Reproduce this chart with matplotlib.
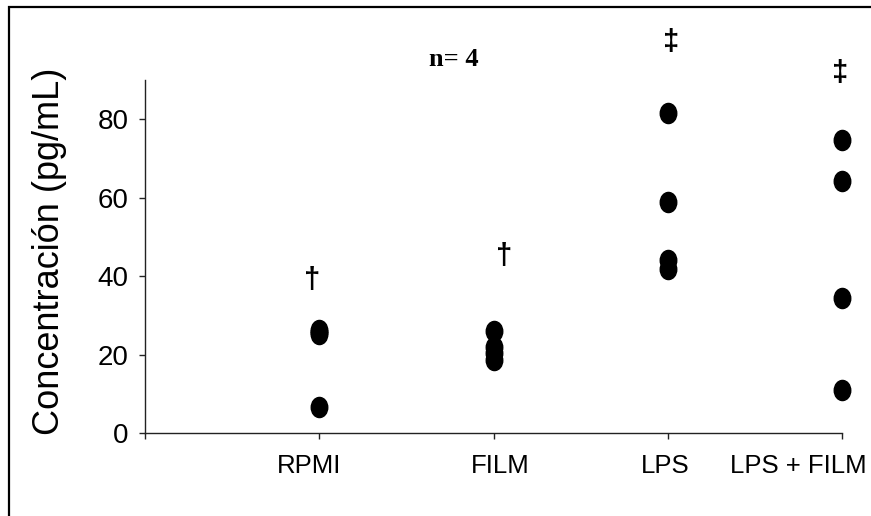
import matplotlib
matplotlib.use("Agg")
import matplotlib.pyplot as plt
from matplotlib.path import Path
from matplotlib.patches import Rectangle
from matplotlib.transforms import Affine2D

plt.rcParams['font.family'] = ['Liberation Sans', 'DejaVu Sans']

# data (pg/mL), n = 4 per group
groups = ['RPMI', 'FILM', 'LPS', 'LPS + FILM']
rpmi = [26.3, 25.8, 25.2, 6.5]
film = [26.0, 22.0, 20.5, 18.5]
lps = [81.5, 59.0, 44.0, 41.8]
lps_film = [74.6, 64.2, 34.3, 11.0]
values = [rpmi, film, lps, lps_film]
sig_marks = ['\u2020', '\u2020', '\u2021', '\u2021']
yticks = [0, 20, 40, 60, 80]

# slightly tall ellipse marker like the original
ellipse = Path.unit_circle().transformed(Affine2D().scale(0.82, 1.0))

fig = plt.figure(figsize=(8.71, 5.16), dpi=100)
ax = fig.add_axes([0.1665, 0.1609, 0.8002, 0.6841])

for i, vals in enumerate(values):
    ax.plot([i + 1] * len(vals), vals, linestyle='none', marker=ellipse,
            markersize=14.5, color='black', clip_on=False)

ax.set_xlim(0, 4)
ax.set_ylim(0, 90)
ax.set_yticks(yticks)
ax.set_yticklabels([str(v) for v in yticks], fontsize=20)
ax.set_xticks(range(0, len(groups) + 1))
ax.set_xticklabels([])

# category labels, placed by hand as in the original (last one pulled inside)
label_shift = [-0.059, 0.037, -0.016, -0.253]
for i, (g, dx) in enumerate(zip(groups, label_shift)):
    ax.text(i + 1 + dx, -0.113, g, transform=ax.get_xaxis_transform(),
            ha='center', va='baseline', fontsize=18.5)

for s in ['top', 'right']:
    ax.spines[s].set_visible(False)
for s in ['left', 'bottom']:
    ax.spines[s].set_color('#222222')
    ax.spines[s].set_linewidth(1.0)
ax.tick_params(axis='y', direction='out', length=4, width=1, pad=8, colors='#222222', labelcolor='black')
ax.tick_params(axis='x', direction='out', length=4, width=1, colors='#222222')

ax.set_ylabel('Concentración (pg/mL)', fontsize=26)
ax.yaxis.set_label_coords(-0.112, 0.516)

# significance marks above groups
mark_pos = [(0.958, 39.0), (2.06, 45.1), (3.02, 99.7), (3.99, 91.8)]
for m, (mx, my) in zip(sig_marks, mark_pos):
    ax.text(mx, my, m, ha='center', va='center', fontsize=21, fontweight='bold',
            clip_on=False)

ax.text(1.77, 95.3, 'n= 4', ha='center', va='center', fontsize=19,
        fontweight='bold', family='Liberation Serif', clip_on=False)

# outer frame (clipped at right and bottom in original)
fig.add_artist(Rectangle((9 / 871, -0.1), 1.2, 1.1 - 7 / 516, transform=fig.transFigure,
                         fill=False, edgecolor='black', linewidth=1.6))

fig.savefig('out.png', dpi=100)
